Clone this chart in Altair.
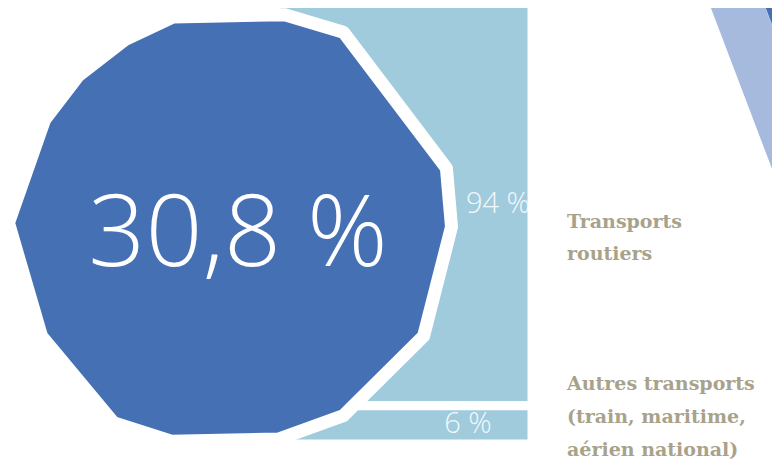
import altair as alt
import pandas as pd

# ---- data ----
categories = ["Transports routiers", "Autres transports (train, maritime, aérien national)"]
category_lines = ["Transports\nroutiers", "Autres transports\n(train, maritime,\naérien national)"]
shares = [94, 6]
transport_share = [30.8]

# ---- styles ----
BLUE = "#4570b4"
LIGHT = "#9fcbdc"
BAND = "#a6badd"
TAN = "#a9a28b"
DOT_PATH = ("M-0.256,-0.953L0.247,-0.963L0.512,-0.884L0.977,-0.27L1,-0.005L0.874,0.488"
            "L0.512,0.847L0.219,0.953L-0.265,0.963L-0.526,0.879L-0.851,0.488L-1,-0.023"
            "L-0.837,-0.488L-0.684,-0.688L-0.474,-0.851Z")

y0, y1, acc = [], [], 0
for s in shares:
    y0.append(acc)
    acc += s
    y1.append(acc)

df = pd.DataFrame({
    "category": categories,
    "lines": category_lines,
    "share": shares,
    "y0": y0,
    "y1": y1,
    "label": [f"{s} %" for s in shares],
})
df_total = pd.DataFrame({
    "share": transport_share,
    "label": [f"{v:.1f}".replace(".", ",") + " %" for v in transport_share],
})

yscale = alt.Scale(domain=[0, 100], range=[-200, 436])

bars = alt.Chart(df).mark_rect(clip=True, stroke="white", strokeWidth=9, color=LIGHT).encode(
    x=alt.value(268),
    x2=alt.value(524),
    y=alt.Y("y0:Q", scale=yscale, axis=None),
    y2="y1:Q",
)

band_light = alt.Chart(df_total).mark_rule(clip=True, strokeWidth=51, color=BAND, strokeCap="butt").encode(
    x=alt.value(715), y=alt.value(-40), x2=alt.value(829), y2=alt.value(260)
)
band_dark = alt.Chart(df_total).mark_rule(clip=True, strokeWidth=100, color=BLUE, strokeCap="butt").encode(
    x=alt.value(796), y=alt.value(-40), x2=alt.value(910), y2=alt.value(260)
)

dot = alt.Chart(df_total).mark_point(
    shape=DOT_PATH, filled=True, fill=BLUE, opacity=1, stroke="white",
    strokeWidth=13, strokeJoin="round", size=196249
).encode(x=alt.value(222), y=alt.value(220))

dot_text = alt.Chart(df_total).mark_text(
    font="Open Sans", fontSize=100, fontWeight=300, color="white", align="center", baseline="alphabetic"
).encode(x=alt.value(230), y=alt.value(258), text="label:N")

lab94 = alt.Chart(df).transform_filter(alt.datum.share == shares[0]).mark_text(
    font="Open Sans", fontSize=29, fontWeight=300, color="#f2f8fa", align="center", baseline="middle"
).encode(x=alt.value(490), y=alt.value(196), text="label:N")

lab6 = alt.Chart(df).transform_filter(alt.datum.share == shares[1]).mark_text(
    font="Open Sans", fontSize=29, fontWeight=300, color="#f2f8fa", align="center", baseline="middle"
).encode(x=alt.value(460), y=alt.value(416), text="label:N")

cat1 = alt.Chart(df).transform_filter(alt.datum.share == shares[0]).mark_text(
    font="DejaVu Serif", fontSize=19, fontWeight="bold", color=TAN, align="left", baseline="alphabetic",
    lineBreak="\n", lineHeight=32
).encode(x=alt.value(559), y=alt.value(220), text="lines:N")

cat2 = alt.Chart(df).transform_filter(alt.datum.share == shares[1]).mark_text(
    font="DejaVu Serif", fontSize=19, fontWeight="bold", color=TAN, align="left", baseline="alphabetic",
    lineBreak="\n", lineHeight=33
).encode(x=alt.value(559), y=alt.value(382), text="lines:N")

chart = alt.layer(
    band_light, band_dark, bars, dot, dot_text, lab94, lab6, cat1, cat2
).properties(
    width=764, height=452, autosize=alt.AutoSizeParams(type="none"), padding=0
).configure(background="white").configure_view(strokeWidth=0)

chart.save("out.html", embed_options={"renderer": "svg", "actions": False})
